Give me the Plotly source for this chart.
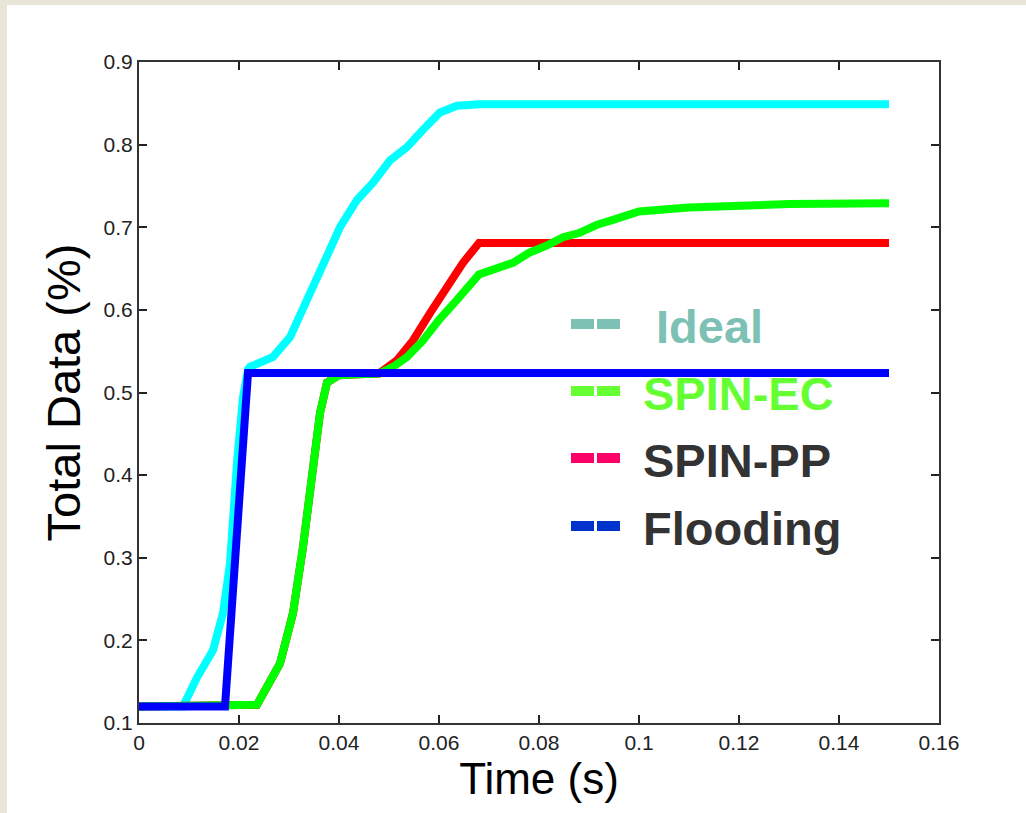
import plotly.graph_objects as go

# ---- data ----
ideal_t = [0, 0.0088, 0.0116, 0.0148, 0.0168, 0.0182, 0.0196, 0.0208, 0.0218, 0.0222, 0.0268,
           0.0302, 0.0336, 0.0368, 0.0402, 0.0436, 0.0468, 0.0502, 0.0536, 0.0568, 0.0602,
           0.0636, 0.0682, 0.15]
ideal_y = [0.12, 0.12, 0.155, 0.188, 0.233, 0.293, 0.415, 0.494, 0.528, 0.531, 0.543,
           0.567, 0.612, 0.657, 0.700, 0.733, 0.754, 0.781, 0.797, 0.818, 0.839,
           0.847, 0.849, 0.849]

flood_t = [0, 0.0172, 0.0218, 0.15]
flood_y = [0.12, 0.12, 0.5235, 0.5235]

pp_t = [0, 0.0236, 0.0282, 0.0308, 0.0328, 0.0346, 0.0362, 0.0376, 0.040, 0.044, 0.048,
        0.0516, 0.0548, 0.0582, 0.0616, 0.0648, 0.068, 0.15]
pp_y = [0.12, 0.122, 0.172, 0.233, 0.313, 0.394, 0.475, 0.512, 0.521, 0.522, 0.523,
        0.539, 0.563, 0.596, 0.628, 0.657, 0.681, 0.681]

ec_t = [0, 0.0236, 0.0282, 0.0308, 0.0328, 0.0346, 0.0362, 0.0376, 0.040, 0.044, 0.048,
        0.0508, 0.0536, 0.0568, 0.060, 0.0636, 0.068, 0.0748, 0.078, 0.0816, 0.0848,
        0.088, 0.0916, 0.0948, 0.098, 0.1, 0.11, 0.12, 0.13, 0.15]
ec_y = [0.12, 0.122, 0.172, 0.233, 0.313, 0.394, 0.475, 0.512, 0.521, 0.522, 0.523,
        0.531, 0.543, 0.563, 0.588, 0.612, 0.643, 0.657, 0.669, 0.678, 0.688,
        0.693, 0.703, 0.709, 0.714, 0.719, 0.724, 0.726, 0.728, 0.729]

x_ticks = [0, 0.02, 0.04, 0.06, 0.08, 0.1, 0.12, 0.14, 0.16]
x_tick_text = ["0", "0.02", "0.04", "0.06", "0.08", "0.1", "0.12", "0.14", "0.16"]
y_ticks = [0.1, 0.2, 0.3, 0.4, 0.5, 0.6, 0.7, 0.8, 0.9]
y_tick_text = ["0.1", "0.2", "0.3", "0.4", "0.5", "0.6", "0.7", "0.8", "0.9"]

legend_names = [" Ideal", "SPIN-EC", "SPIN-PP", "Flooding"]
legend_text_colors = ["#7dc1b5", "#66ff33", "#333333", "#333333"]
legend_dash_colors = ["#7dc1b5", "#66ff33", "#ff0066", "#0033cc"]

# ---- figure ----
W, H = 1026, 813
L, R, T, B = 139, 87, 62, 90
pw, ph = W - L - R, H - T - B

def px(xp):
    return (xp - L) / pw

def py(yp):
    return (H - B - yp) / ph

fig = go.Figure()
fig.add_trace(go.Scatter(x=ideal_t, y=ideal_y, mode="lines", line=dict(color="#00ffff", width=8)))
fig.add_trace(go.Scatter(x=pp_t, y=pp_y, mode="lines", line=dict(color="#ff0000", width=8)))
fig.add_trace(go.Scatter(x=ec_t, y=ec_y, mode="lines", line=dict(color="#00ff00", width=8)))
fig.add_trace(go.Scatter(x=flood_t, y=flood_y, mode="lines", line=dict(color="#0000ff", width=8)))

shapes = [
    # white page over textured beige
    dict(type="rect", xref="paper", yref="paper", x0=px(7), x1=px(W + 20), y0=py(H + 20), y1=py(5),
         fillcolor="white", line=dict(width=0), layer="below"),
]
annotations = []
row_y = [324, 391, 458, 526]
for i, name in enumerate(legend_names):
    yc = row_y[i]
    for x0, x1 in [(571, 594), (597, 620)]:
        shapes.append(dict(type="rect", xref="paper", yref="paper",
                           x0=px(x0), x1=px(x1), y0=py(yc + 5), y1=py(yc - 5),
                           fillcolor=legend_dash_colors[i], line=dict(width=0)))
    annotations.append(dict(xref="paper", yref="paper", x=px(641), y=py(yc + 2),
                            xanchor="left", yanchor="middle", showarrow=False,
                            text="<b>" + name + "</b>",
                            font=dict(family="Liberation Sans, Arial, sans-serif", size=47,
                                      color=legend_text_colors[i])))

tick_font = dict(family="Liberation Sans Narrow, Arial Narrow, Liberation Sans, Arial", size=21, color="#222222")
x_title_font = dict(family="Liberation Sans Narrow, Arial Narrow, Liberation Sans, Arial", size=44, color="black")
y_title_font = dict(family="Liberation Sans Narrow, Arial Narrow, Liberation Sans, Arial", size=47, color="black")

fig.update_layout(
    width=W, height=H,
    margin=dict(l=L, r=R, t=T, b=B, pad=0),
    paper_bgcolor="#e8e6d6",
    plot_bgcolor="white",
    showlegend=False,
    shapes=shapes,
    annotations=annotations,
    xaxis=dict(range=[0, 0.16], tickvals=x_ticks, ticktext=x_tick_text,
               ticks="inside", ticklen=8, tickwidth=1.5, tickcolor="#222222",
               showline=True, linecolor="#333333", linewidth=2, mirror="ticks",
               showgrid=False, zeroline=False, tickfont=tick_font,
               title=dict(text="Time (s)", font=x_title_font, standoff=2)),
    yaxis=dict(range=[0.1, 0.9], tickvals=y_ticks, ticktext=y_tick_text,
               ticks="inside", ticklen=8, tickwidth=1.5, tickcolor="#222222",
               showline=True, linecolor="#333333", linewidth=2, mirror="ticks",
               showgrid=False, zeroline=False, tickfont=tick_font,
               title=dict(text="Total Data (%)", font=y_title_font, standoff=8)),
)

fig.write_html("out.html", config={"displayModeBar": False},
               post_script="document.body.style.margin='0';")
